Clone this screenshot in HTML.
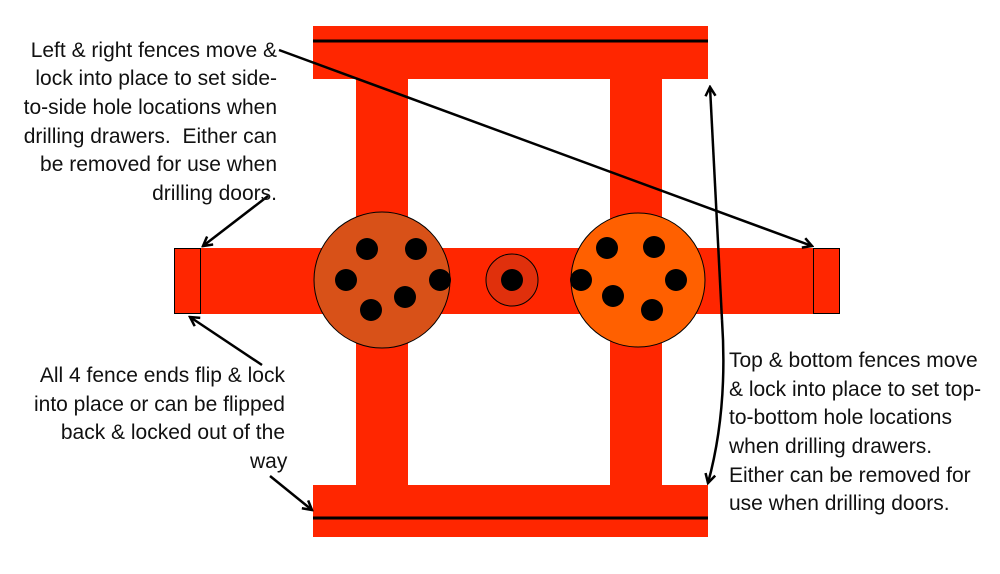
<!DOCTYPE html>
<html><head><meta charset="utf-8"><style>
html,body{margin:0;padding:0;background:#fff;}
svg{display:block;}
text{font-family:"Liberation Sans",sans-serif;font-size:21px;fill:#111;}
</style></head><body>
<svg width="1000" height="574" viewBox="0 0 1000 574" xmlns="http://www.w3.org/2000/svg">
<defs>
<marker id="ah" markerWidth="12" markerHeight="12" refX="10" refY="6" orient="auto" markerUnits="userSpaceOnUse">
<path d="M1,1 L10,6 L1,11" fill="none" stroke="#000" stroke-width="2.5"/>
</marker>
</defs>
<g fill="#ff2600">
<rect x="356" y="79" width="52" height="406"/>
<rect x="610" y="79" width="52" height="406"/>
<rect x="313" y="26" width="395" height="53"/>
<rect x="313" y="485" width="395" height="52"/>
<rect x="174" y="248" width="666" height="66"/>
</g>
<line x1="313" y1="41" x2="708" y2="41" stroke="#000" stroke-width="3"/>
<line x1="313" y1="518" x2="708" y2="518" stroke="#000" stroke-width="3"/>
<rect x="174.5" y="248.5" width="26" height="65" fill="#ff2600" stroke="#000" stroke-width="1"/>
<rect x="813.5" y="248.5" width="26" height="65" fill="#ff2600" stroke="#000" stroke-width="1"/>
<circle cx="382" cy="280" r="68" fill="#d85118" stroke="#000" stroke-width="1"/>
<circle cx="638" cy="280" r="67" fill="#ff6000" stroke="#000" stroke-width="1"/>
<circle cx="512" cy="280" r="26" fill="#e0300c" stroke="#000" stroke-width="1"/>
<g fill="#000">
<circle cx="512" cy="280" r="11"/>
<circle cx="367" cy="249" r="11"/><circle cx="416" cy="249" r="11"/>
<circle cx="346" cy="280" r="11"/><circle cx="440" cy="280" r="11"/>
<circle cx="405" cy="297" r="11"/><circle cx="371" cy="310" r="11"/>
<circle cx="607" cy="248" r="11"/><circle cx="654" cy="247" r="11"/>
<circle cx="581" cy="280" r="11"/><circle cx="676" cy="280" r="11"/>
<circle cx="613" cy="296" r="11"/><circle cx="652" cy="310" r="11"/>
</g>
<g stroke="#000" stroke-width="2.5" fill="none" marker-end="url(#ah)">
<line x1="279" y1="50" x2="812" y2="246"/>
<line x1="268" y1="196" x2="203" y2="246"/>
<line x1="262" y1="365" x2="190" y2="317"/>
<line x1="270" y1="476" x2="312" y2="510"/>
<path d="M722,320 Q728,410 708,483"/>
<path d="M722,320 Q716,200 710,87"/>
</g>
<g text-anchor="end">
<text x="277" y="57">Left &amp; right fences move &amp;</text>
<text x="277" y="85">lock into place to set side-</text>
<text x="277" y="114">to-side hole locations when</text>
<text x="277" y="143">drilling drawers.&#160; Either can</text>
<text x="277" y="171">be removed for use when</text>
<text x="277" y="200">drilling doors.</text>
<text x="285" y="382">All 4 fence ends flip &amp; lock</text>
<text x="285" y="411">into place or can be flipped</text>
<text x="285" y="439">back &amp; locked out of the</text>
</g>
<text x="250" y="468">way</text>
<g>
<text x="729" y="367">Top &amp; bottom fences move</text>
<text x="729" y="396">&amp; lock into place to set top-</text>
<text x="729" y="424">to-bottom hole locations</text>
<text x="729" y="453">when drilling drawers.</text>
<text x="729" y="482">Either can be removed for</text>
<text x="729" y="510">use when drilling doors.</text>
</g>
</svg>
</body></html>
